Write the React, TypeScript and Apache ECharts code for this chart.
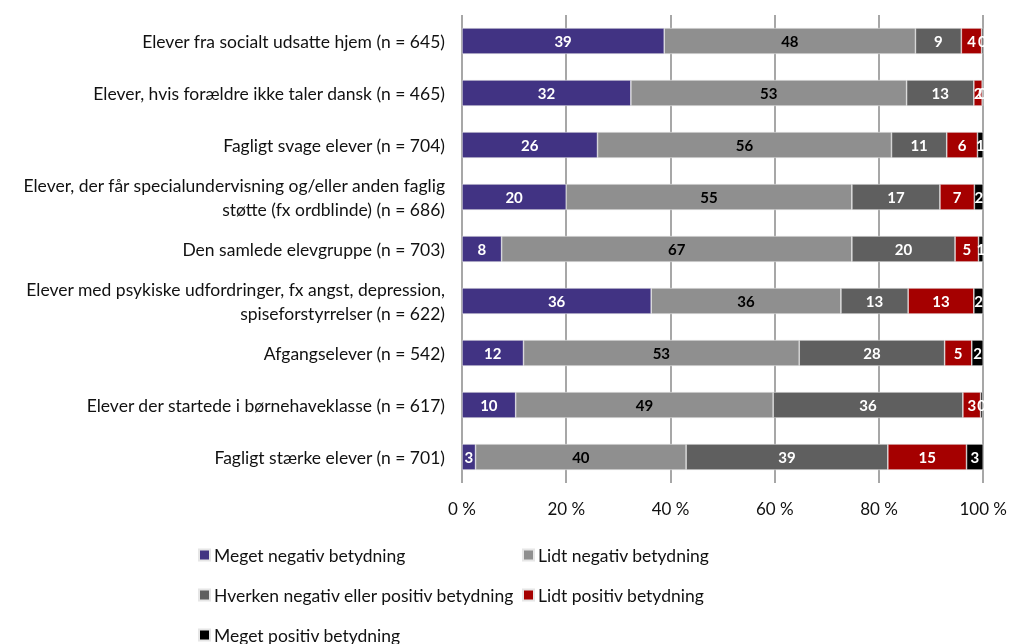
import React, { useEffect, useRef } from "react";
import * as echarts from "echarts";

const categories = [
  "Elever fra socialt udsatte hjem (n = 645)",
  "Elever, hvis forældre ikke taler dansk (n = 465)",
  "Fagligt svage elever (n = 704)",
  "Elever, der får specialundervisning og/eller anden faglig\nstøtte (fx ordblinde) (n = 686)",
  "Den samlede elevgruppe (n = 703)",
  "Elever med psykiske udfordringer, fx angst, depression,\nspiseforstyrrelser (n = 622)",
  "Afgangselever (n = 542)",
  "Elever der startede i børnehaveklasse (n = 617)",
  "Fagligt stærke elever (n = 701)",
];

const seriesNames = [
  "Meget negativ betydning",
  "Lidt negativ betydning",
  "Hverken negativ eller positiv betydning",
  "Lidt positiv betydning",
  "Meget positiv betydning",
];

const megetNegativ = [38.8, 32.4, 26.0, 20.0, 7.6, 36.3, 11.8, 10.3, 2.6];
const lidtNegativ = [48.2, 52.9, 56.4, 54.8, 67.2, 36.4, 52.9, 49.4, 40.4];
const hverken = [8.8, 12.9, 10.6, 16.9, 19.8, 12.9, 27.9, 36.4, 38.7];
const lidtPositiv = [3.9, 1.6, 5.9, 6.6, 4.5, 12.6, 5.2, 3.4, 15.1];
const megetPositiv = [0.3, 0.2, 1.1, 1.7, 0.9, 1.8, 2.2, 0.4, 3.2];

const xTicks = [0, 20, 40, 60, 80, 100];

const colors = ["#413383", "#8f8f8f", "#5f5f5f", "#a50000", "#000000"];
const labelColors = ["#ffffff", "#000000", "#ffffff", "#ffffff", "#ffffff"];
const FONT = "Lato";

export default function App() {
  const ref = useRef<HTMLDivElement>(null);
  useEffect(() => {
    if (!ref.current) return;
    const chart = echarts.init(ref.current, undefined, { renderer: "svg" });
    const data = [megetNegativ, lidtNegativ, hverken, lidtPositiv, megetPositiv];
    const legendPos = [
      { left: 198, top: 546 },
      { left: 522, top: 546 },
      { left: 198, top: 586 },
      { left: 522, top: 586 },
      { left: 198, top: 626 },
    ];
    const option: any = {
      animation: false,
      textStyle: { fontFamily: FONT },
      grid: { left: 462, right: 23, top: 15, bottom: 161, containLabel: false },
      xAxis: {
        type: "value",
        min: xTicks[0],
        max: xTicks[xTicks.length - 1],
        interval: 20,
        axisLine: { show: false },
        axisTick: { show: false },
        splitLine: { show: true, lineStyle: { color: "#8a8a8a", width: 1.5 } },
        axisLabel: {
          formatter: "{value} %",
          fontSize: 17,
          color: "#111",
          margin: 17,
          fontFamily: FONT,
        },
      },
      yAxis: {
        type: "category",
        inverse: true,
        data: categories,
        axisLine: { show: false },
        axisTick: { show: false },
        axisLabel: {
          fontSize: 17.5,
          color: "#111",
          margin: 17,
          lineHeight: 24,
          align: "right",
          fontFamily: FONT,
        },
      },
      legend: seriesNames.map((n, i) => ({
        data: [n],
        left: legendPos[i].left,
        top: legendPos[i].top,
        padding: 0,
        icon: "rect",
        itemWidth: 11,
        itemHeight: 11,
        selectedMode: false,
        textStyle: { fontSize: 17.5, color: "#111", fontFamily: FONT, padding: [0, 0, 0, -1] },
      })),
      series: seriesNames.map((n, i) => ({
        name: n,
        type: "bar",
        stack: "total",
        barWidth: 26,
        data: data[i],
        itemStyle: { color: colors[i], borderColor: "#e6e6e6", borderWidth: 0.6 },
        label: {
          show: true,
          position: "inside",
          formatter: (p: any) => String(Math.round(p.value)),
          color: labelColors[i],
          fontSize: 15,
          fontWeight: "bold",
          fontFamily: FONT,
        },
      })),
    };
    chart.setOption(option);
    return () => chart.dispose();
  }, []);
  return (
    <div
      ref={ref}
      style={{ position: "fixed", left: 0, top: 0, width: 1010, height: 644 }}
    />
  );
}
